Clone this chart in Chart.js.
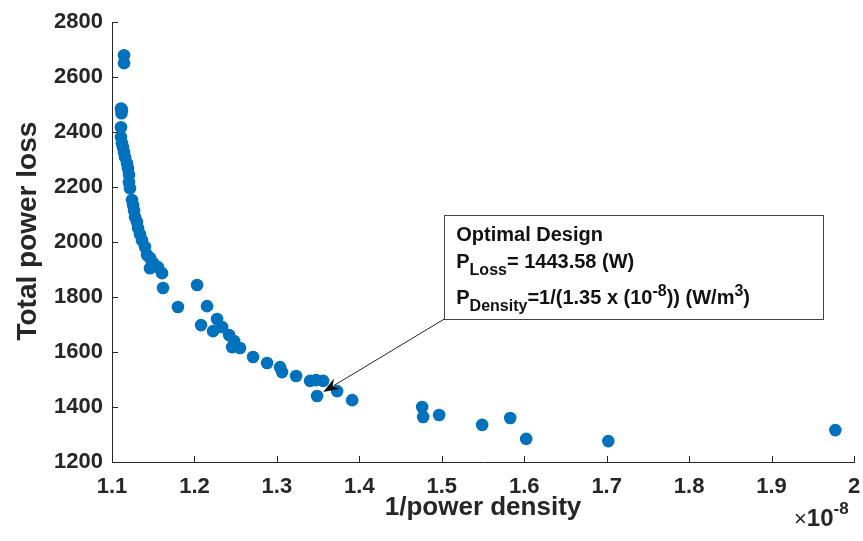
<!DOCTYPE html>
<html>
<head>
<meta charset="utf-8">
<script src="https://cdn.jsdelivr.net/npm/chart.js@4.4.1/dist/chart.umd.min.js"></script>
<style>
  html, body { margin: 0; padding: 0; background: #fff; }
  #wrap { width: 863px; height: 541px; }
</style>
</head>
<body>
<div id="wrap"><canvas id="grafica" width="863" height="541"></canvas></div>
<script>
// Datos
const densidadInv = [
  1.1146, 1.1146, 1.1121, 1.1109, 1.1115, 1.1109, 1.1109, 1.1121, 1.1133, 1.1146,
  1.1158, 1.1182, 1.1194, 1.1206, 1.1206, 1.1218, 1.1243, 1.1255, 1.1267, 1.1279,
  1.1303, 1.1316, 1.134, 1.1364, 1.140, 1.1425, 1.1461, 1.1498, 1.1461, 1.1558,
  1.1607, 1.1619, 1.180, 1.2032, 1.2153, 1.208, 1.2274, 1.2226, 1.2335, 1.242,
  1.2481, 1.2456, 1.2553, 1.2711, 1.2881, 1.3039, 1.3063, 1.3233, 1.3403, 1.3476,
  1.3561, 1.3488, 1.3731, 1.3913, 1.4762, 1.4774, 1.4968, 1.549, 1.583, 1.6024,
  1.702, 1.9774
];
const perdidaTotal = [
  2680, 2651, 2482, 2486, 2469, 2418, 2382, 2360, 2345, 2327,
  2309, 2287, 2269, 2244, 2218, 2196, 2153, 2135, 2116, 2091,
  2073, 2051, 2029, 2007, 1982, 1953, 1942, 1924, 1905, 1909,
  1887, 1833, 1764, 1844, 1767, 1698, 1720, 1676, 1691, 1662,
  1640, 1618, 1615, 1582, 1560, 1545, 1527, 1513, 1495, 1498,
  1495, 1440, 1458, 1425, 1400, 1364, 1371, 1335, 1360, 1284,
  1276, 1316
];
const xTicks = [1.1, 1.2, 1.3, 1.4, 1.5, 1.6, 1.7, 1.8, 1.9, 2.0];
const yTicks = [1200, 1400, 1600, 1800, 2000, 2200, 2400, 2600, 2800];
const tituloY = "Total power loss";
const tituloX = "1/power density";

// Punto optimo y caja de anotacion (en unidades de los ejes)
const optimo = [1.35, 1443.58];
const cajaX = [1.503, 1.963];
const cajaY = [2098, 1720];
const lineasTexto = [
  [["Optimal Design", "n"]],
  [["P", "n"], ["Loss", "sub"], ["= 1443.58 (W)", "n"]],
  [["P", "n"], ["Density", "sub"], ["=1/(1.35 x (10", "n"], ["-8", "sup"], [")) (W/m", "n"], ["3", "sup"], [")", "n"]]
];

const colorEje = "#262626";
const fuente = "'Liberation Sans', Arial, Helvetica, sans-serif";

// Ticks hacia dentro, titulo Y, anotacion y factor x10^-8
const extras = {
  id: "extras",
  afterDraw(chart) {
    const { ctx, chartArea: a, scales: { x, y } } = chart;
    ctx.save();
    ctx.strokeStyle = colorEje;
    ctx.lineWidth = 1;
    ctx.beginPath();
    yTicks.forEach(v => {
      const py = Math.round(y.getPixelForValue(v)) + 0.5;
      ctx.moveTo(a.left, py);
      ctx.lineTo(a.left + 6, py);
    });
    xTicks.forEach(v => {
      const px = Math.round(x.getPixelForValue(v)) + 0.5;
      ctx.moveTo(px, a.bottom);
      ctx.lineTo(px, a.bottom - 6);
    });
    ctx.stroke();

    // titulo eje Y
    ctx.save();
    ctx.translate(28, (a.top + a.bottom) / 2 - 11);
    ctx.rotate(-Math.PI / 2);
    ctx.fillStyle = colorEje;
    ctx.font = "bold 28px " + fuente;
    ctx.textAlign = "center";
    ctx.textBaseline = "middle";
    ctx.fillText(tituloY, 0, 0);
    ctx.restore();

    // caja
    const bx0 = x.getPixelForValue(cajaX[0]);
    const bx1 = x.getPixelForValue(cajaX[1]);
    const by0 = y.getPixelForValue(cajaY[0]);
    const by1 = y.getPixelForValue(cajaY[1]);
    ctx.fillStyle = "#fff";
    ctx.fillRect(bx0, by0, bx1 - bx0, by1 - by0);
    ctx.strokeStyle = "#444";
    ctx.strokeRect(Math.round(bx0) + 0.5, Math.round(by0) + 0.5, Math.round(bx1 - bx0), Math.round(by1 - by0));

    // flecha
    const ox = x.getPixelForValue(optimo[0]);
    const oy = y.getPixelForValue(optimo[1]);
    const dx = bx0 - ox, dy = by1 - oy;
    const len = Math.hypot(dx, dy);
    const ux = dx / len, uy = dy / len;
    const tx = ox + ux * 6, ty = oy + uy * 6;
    ctx.strokeStyle = "#222";
    ctx.beginPath();
    ctx.moveTo(bx0, by1);
    ctx.lineTo(tx + ux * 12, ty + uy * 12);
    ctx.stroke();
    ctx.fillStyle = "#111";
    ctx.beginPath();
    ctx.moveTo(tx, ty);
    ctx.lineTo(tx + ux * 16 - uy * 6, ty + uy * 16 + ux * 6);
    ctx.lineTo(tx + ux * 11, ty + uy * 11);
    ctx.lineTo(tx + ux * 16 + uy * 6, ty + uy * 16 - ux * 6);
    ctx.closePath();
    ctx.fill();

    // texto
    ctx.fillStyle = "#111";
    ctx.textBaseline = "alphabetic";
    ctx.textAlign = "left";
    const bases = [26, 53, 89];
    lineasTexto.forEach((linea, i) => {
      let cx = bx0 + 12;
      const base = by0 + bases[i];
      linea.forEach(([t, modo]) => {
        let dyT = 0;
        if (modo === "n") ctx.font = "bold 20px " + fuente;
        else ctx.font = "bold 16px " + fuente;
        if (modo === "sub") dyT = 7;
        if (modo === "sup") dyT = -8;
        ctx.fillText(t, cx, base + dyT);
        cx += ctx.measureText(t).width;
      });
    });

    // x10^-8
    ctx.fillStyle = colorEje;
    ctx.font = "22px " + fuente;
    let ex = a.right - 60;
    const eb = a.bottom + 64;
    ctx.fillText("\u00d7", ex, eb);
    ex += ctx.measureText("\u00d7").width;
    ctx.font = "bold 24px " + fuente;
    ctx.fillText("10", ex, eb);
    ex += ctx.measureText("10").width;
    ctx.font = "bold 17px " + fuente;
    ctx.fillText("-8", ex, eb - 12);
    ctx.restore();
  }
};

const ctx = document.getElementById("grafica").getContext("2d");
new Chart(ctx, {
  type: "scatter",
  data: {
    datasets: [{
      data: densidadInv.map((v, i) => ({ x: v, y: perdidaTotal[i] })),
      backgroundColor: "#0072BD",
      borderWidth: 0,
      pointRadius: 6.3,
      pointHoverRadius: 6.3
    }]
  },
  options: {
    responsive: false,
    animation: false,
    layout: { padding: { left: 0, top: 21, right: 0, bottom: 0 } },
    plugins: { legend: { display: false }, tooltip: { enabled: false } },
    scales: {
      x: {
        type: "linear",
        min: 1.1,
        max: 2.0,
        afterBuildTicks: s => { s.ticks = xTicks.map(v => ({ value: v })); },
        afterFit: s => { s.height = 79; s.paddingRight = 9; s.paddingLeft = 0; },
        grid: { drawOnChartArea: false, drawTicks: false, color: colorEje },
        border: { color: colorEje, width: 1 },
        ticks: {
          color: colorEje,
          padding: 12,
          maxRotation: 0,
          font: { family: fuente, size: 22, weight: "bold" },
          callback: v => String(Number(v.toFixed(1)))
        },
        title: {
          display: true,
          text: tituloX,
          color: colorEje,
          padding: { top: 0, bottom: 18 },
          font: { family: fuente, size: 26, weight: "bold" }
        }
      },
      y: {
        type: "linear",
        min: 1200,
        max: 2800,
        afterBuildTicks: s => { s.ticks = yTicks.map(v => ({ value: v })); },
        afterFit: s => { s.width = 112; },
        grid: { drawOnChartArea: false, drawTicks: false, color: colorEje },
        border: { color: colorEje, width: 1 },
        ticks: {
          color: colorEje,
          padding: 9,
          font: { family: fuente, size: 22, weight: "bold" },
          callback: v => String(v)
        }
      }
    }
  },
  plugins: [extras]
});
</script>
</body>
</html>
